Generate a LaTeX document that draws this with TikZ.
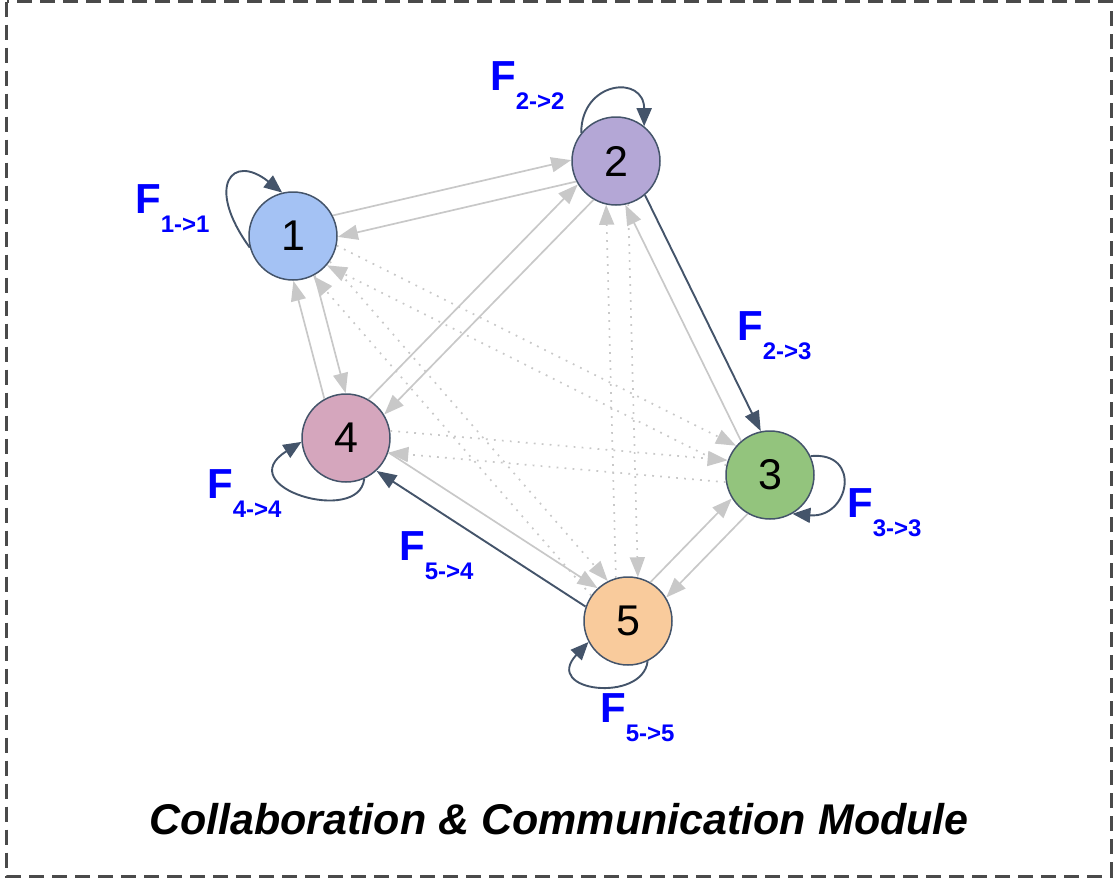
\documentclass[tikz,border=0pt]{standalone}
\usepackage{fontspec}
\setmainfont{Liberation Sans}
\usetikzlibrary{arrows.meta,calc}

\definecolor{edgegray}{HTML}{C8C8C8}
\definecolor{slate}{HTML}{44546A}
\definecolor{fblue}{HTML}{0000FF}
\definecolor{framegray}{HTML}{4A4A4A}
\definecolor{agentA}{HTML}{A4C2F4}
\definecolor{agentB}{HTML}{B4A7D6}
\definecolor{agentC}{HTML}{93C47D}
\definecolor{agentD}{HTML}{D5A6BD}
\definecolor{agentE}{HTML}{F9CB9C}

% a link from #2 to #3, drawn parallel to the centre line, on its left side
\newcommand\pairlink[3]{%
  \draw[#1] ($(#2)!11pt!90:(#3)$) -- ($(#3)!11pt!-90:(#2)$);}

% flow label F with a lowered index
\newcommand\flow[1]{F\raisebox{-19pt}{\fontsize{24}{24}\selectfont #1}}

\begin{document}
\begin{tikzpicture}[x=1pt,y=-1pt,
  agent/.style={circle, draw=slate, line width=1.5pt, minimum size=88pt,
    inner sep=0pt, font=\fontsize{43}{43}\selectfont},
  link/.style={draw=edgegray, line width=1.7pt,
    -{Triangle[length=20pt,width=15pt]},
    shorten <=43.5pt, shorten >=43.5pt},
  faint/.style={link, dash pattern=on 1.8pt off 6.2pt},
  strong/.style={link, draw=slate, line width=1.9pt},
  selfloop/.style={draw=slate, line width=1.9pt,
    -{Triangle[length=18pt,width=15pt]}},
  flabel/.style={text=fblue, inner sep=0pt, anchor=base west,
    font=\bfseries\fontsize{42}{42}\selectfont},
  frame/.style={draw=framegray, line width=3pt, dash pattern=on 15pt off 8pt}
]
\useasboundingbox (0,0) rectangle (1116,878);
\draw[frame] (6.5,1.5) rectangle (1111,876);

% agents
\node[agent, fill=agentA] (n1) at (293,236) {1};
\node[agent, fill=agentB] (n2) at (616,161) {2};
\node[agent, fill=agentC] (n3) at (770,475) {3};
\node[agent, fill=agentD] (n4) at (346,438) {4};
\node[agent, fill=agentE] (n5) at (628,621) {5};

% direct links
\pairlink{link}{n1}{n2}
\pairlink{link}{n2}{n1}
\pairlink{link}{n1}{n4}
\pairlink{link}{n4}{n1}
\pairlink{link}{n2}{n4}
\pairlink{link}{n4}{n2}
\pairlink{link}{n3}{n2}
\pairlink{link}{n4}{n5}
\pairlink{link}{n5}{n3}
\pairlink{link}{n3}{n5}

% indirect links
\pairlink{faint}{n1}{n3}
\pairlink{faint}{n3}{n1}
\pairlink{faint}{n4}{n3}
\pairlink{faint}{n3}{n4}
\pairlink{faint}{n2}{n5}
\pairlink{faint}{n5}{n2}
\pairlink{faint}{n1}{n5}
\pairlink{faint}{n5}{n1}

% active flows
\pairlink{strong}{n2}{n3}
\pairlink{strong}{n5}{n4}

% self flows
\draw[selfloop] (n1.195) .. controls +(-45,-62) and +(-50,-40) .. (n1.104);
\draw[selfloop] (n2.141) .. controls +(0,-52) and +(0,-52) .. (n2.51);
\draw[selfloop] (n3.25) .. controls +(52,-5) and +(57,5) .. (n3.-60);
\draw[selfloop] (n4.-66) .. controls +(-5,47) and +(-72,45) .. (n4.185);
\draw[selfloop] (n5.-64) .. controls +(-5,42) and +(-47,50) .. (n5.208);

% flow labels
\node[flabel] (f11) at (135,213) {\flow{1->1}};
\node[flabel] (f22) at (490,90) {\flow{2->2}};
\node[flabel] (f23) at (737,340) {\flow{2->3}};
\node[flabel] (f33) at (847,517) {\flow{3->3}};
\node[flabel] (f44) at (207,498) {\flow{4->4}};
\node[flabel] (f54) at (399,560) {\flow{5->4}};
\node[flabel] (f55) at (600,722) {\flow{5->5}};

% module title
\node[anchor=base, inner sep=0pt, font=\bfseries\itshape\fontsize{43}{43}\selectfont]
  (title) at (559,834) {Collaboration \& Communication Module};
\end{tikzpicture}
\end{document}
